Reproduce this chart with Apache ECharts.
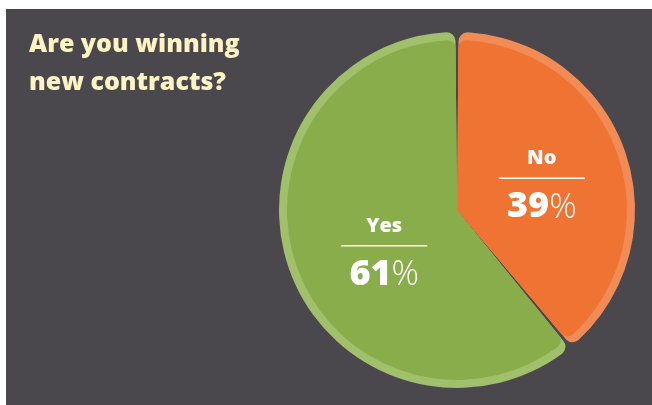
<!DOCTYPE html>
<html>
<head>
<meta charset="utf-8">
<script src="https://cdn.jsdelivr.net/npm/echarts@6/dist/echarts.min.js"></script>
<style>
  html, body { margin: 0; padding: 0; background: #ffffff; }
  #chart { position: absolute; left: 6px; top: 9px; width: 646px; height: 396px; }
</style>
</head>
<body>
<div id="chart"></div>
<script>
// Survey answers
const categories = ['No', 'Yes'];
const shares = [39, 61];
const title = ['Are you winning', 'new contracts?'];

const baseColors = ['#ef7433', '#8aad4b'];
const rimColors = ['#f28c57', '#a1c06b'];
// nudges for the in-slice labels
const labelOffsets = [[2, 2], [10, 10]];

const chart = echarts.init(document.getElementById('chart'), null, { renderer: 'canvas' });

const cx = 451, cy = 201, R = 178, rimWidth = 8;

const rimData = categories.map((c, i) => ({
  name: c, value: shares[i], itemStyle: { color: rimColors[i] }
}));
const coreData = categories.map((c, i) => ({
  name: c, value: shares[i], itemStyle: { color: baseColors[i] },
  label: { offset: labelOffsets[i] }
}));

chart.setOption({
  backgroundColor: '#4a474d',
  animation: false,
  graphic: [{
    type: 'text',
    left: 23, top: 17,
    style: {
      text: title.join('\n'),
      fill: '#fdf3c3',
      font: '800 25px "Open Sans", sans-serif',
      lineHeight: 38
    }
  }],
  series: [
    {
      type: 'pie',
      center: [cx, cy],
      radius: [0, R],
      startAngle: 90,
      padAngle: 1,
      silent: true,
      itemStyle: { borderRadius: [0, 9] },
      label: { show: false },
      labelLine: { show: false },
      data: rimData
    },
    {
      type: 'pie',
      center: [cx, cy],
      radius: [0, R - rimWidth],
      startAngle: 90,
      padAngle: 1,
      silent: true,
      itemStyle: { borderRadius: [0, 8] },
      labelLine: { show: false },
      label: {
        show: true,
        position: 'inside',
        formatter: p => '{name|' + p.name + '}\n{hr|}\n{val|' + p.value + '}{pct|%}',
        rich: {
          name: { color: '#ffffff', fontFamily: 'Open Sans', fontWeight: 800, fontSize: 20, lineHeight: 38, align: 'center' },
          hr: { backgroundColor: '#ffffff', width: 86, height: 1.5, align: 'center' },
          val: { color: '#ffffff', fontFamily: 'Open Sans', fontWeight: 800, fontSize: 36, lineHeight: 46, verticalAlign: 'bottom' },
          pct: { color: '#ffffff', fontFamily: 'Open Sans', fontWeight: 300, fontSize: 34, lineHeight: 46, verticalAlign: 'bottom' }
        }
      },
      data: coreData
    }
  ]
});
</script>
</body>
</html>
